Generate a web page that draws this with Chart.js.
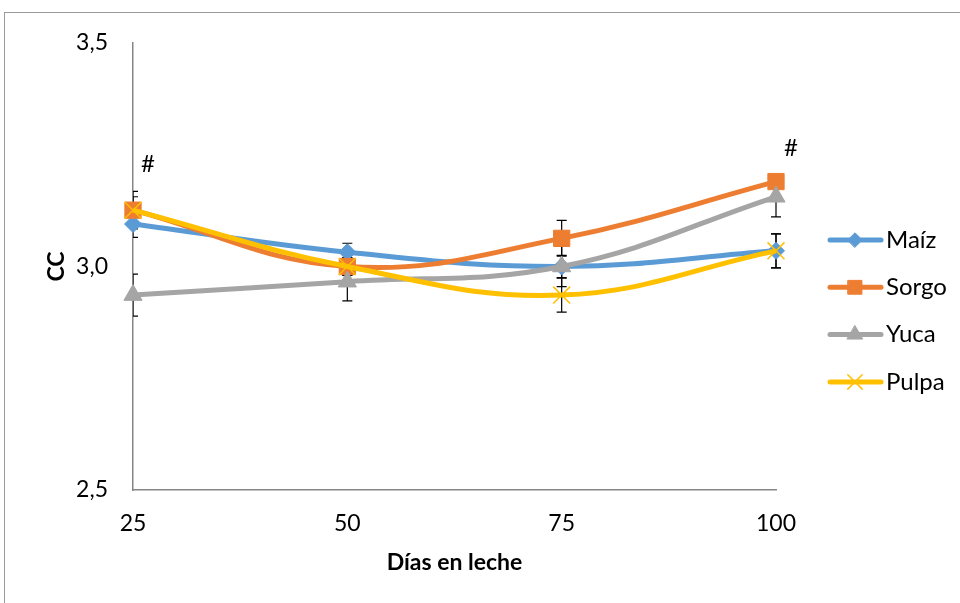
<!DOCTYPE html>
<html>
<head>
<meta charset="utf-8">
<script src="https://cdn.jsdelivr.net/npm/chart.js@4/dist/chart.umd.min.js"></script>
<style>
  html, body { margin: 0; padding: 0; background: #fff; }
  #wrap { width: 960px; height: 603px; }
</style>
</head>
<body>
<div id="wrap"><canvas id="c" width="960" height="603"></canvas></div>
<script>
// Condición corporal (CC) por días en leche, según fuente energética
const days = [25, 50, 75, 100];
const seriesNames = ['Maíz', 'Sorgo', 'Yuca', 'Pulpa'];
const maiz  = [3.095, 3.032, 3.000, 3.035];
const sorgo = [3.126, 3.000, 3.063, 3.190];
const yuca  = [2.936, 2.966, 3.000, 3.156];
const pulpa = [3.126, 3.000, 2.936, 3.035];
// error estándar de cada media
const maizErr  = [0.030, 0.020, 0.025, 0.038];
const sorgoErr = [0.042, 0.020, 0.040, 0.015];
const yucaErr  = [0.047, 0.043, 0.045, 0.045];
const pulpaErr = [0.030, 0.020, 0.038, 0.038];
const yTicks = [2.5, 3.0, 3.5];
const xTicks = [25, 50, 75, 100];
// días con diferencia significativa (#)
const signifDays = [25, 100];

const colors = ['#5B9BD5', '#ED7D31', '#A5A5A5', '#FFC000'];
const styles = ['rectRot', 'rect', 'triangle', 'crossRot'];
const radii = [8.5, 11.5, 10.5, 12];
const values = [maiz, sorgo, yuca, pulpa];
const errors = [maizErr, sorgoErr, yucaErr, pulpaErr];

const FONT = 'Lato, "Open Sans", sans-serif';

const datasets = seriesNames.map((name, i) => ({
  label: name,
  data: days.map((d, j) => ({ x: d, y: values[i][j] })),
  errors: errors[i],
  borderColor: colors[i],
  backgroundColor: colors[i],
  pointBackgroundColor: colors[i],
  pointBorderColor: colors[i],
  pointBorderWidth: styles[i] === 'crossRot' ? 1.5 : 1,
  pointStyle: styles[i],
  pointRadius: radii[i],
  pointHoverRadius: radii[i],
  borderWidth: 5,
  tension: 0.4,
  fill: false,
  clip: false,
  order: seriesNames.length - i
}));

// page frame
const framePlugin = {
  id: 'frame',
  beforeDraw(chart) {
    const ctx = chart.ctx;
    ctx.save();
    ctx.fillStyle = '#fff';
    ctx.fillRect(0, 0, chart.width, chart.height);
    ctx.strokeStyle = '#9a9a9a';
    ctx.lineWidth = 1;
    ctx.strokeRect(4.5, 12.5, chart.width + 20, chart.height + 20);
    ctx.restore();
  }
};

// error bars behind the lines
const errorBarPlugin = {
  id: 'errorBars',
  beforeDatasetsDraw(chart) {
    const ctx = chart.ctx;
    const xs = chart.scales.x, ys = chart.scales.y;
    const area = chart.chartArea;
    ctx.save();
    ctx.beginPath();
    ctx.rect(area.left, 0, chart.width - area.left, chart.height);
    ctx.clip();
    ctx.strokeStyle = '#000';
    ctx.lineWidth = 1.2;
    chart.data.datasets.forEach(ds => {
      ds.data.forEach((p, j) => {
        const e = ds.errors[j];
        const x = xs.getPixelForValue(p.x);
        const y1 = ys.getPixelForValue(p.y + e);
        const y2 = ys.getPixelForValue(p.y - e);
        ctx.beginPath();
        ctx.moveTo(x, y1); ctx.lineTo(x, y2);
        ctx.moveTo(x - 5, y1); ctx.lineTo(x + 5, y1);
        ctx.moveTo(x - 5, y2); ctx.lineTo(x + 5, y2);
        ctx.stroke();
      });
    });
    ctx.restore();
  }
};

// significance marks above the highest error bar of each flagged day
const signifPlugin = {
  id: 'signif',
  afterDatasetsDraw(chart) {
    const ctx = chart.ctx;
    const xs = chart.scales.x, ys = chart.scales.y;
    ctx.save();
    ctx.fillStyle = '#000';
    ctx.font = '24px ' + FONT;
    ctx.textAlign = 'center';
    ctx.textBaseline = 'middle';
    signifDays.forEach(d => {
      const j = days.indexOf(d);
      const top = Math.max(...values.map((v, i) => v[j] + errors[i][j]));
      const x = xs.getPixelForValue(d) + 15;
      const y = ys.getPixelForValue(top) - 27;
      ctx.fillText('#', x, y);
    });
    ctx.restore();
  }
};

// legend: line with marker and name
const legendPlugin = {
  id: 'lineLegend',
  afterDraw(chart) {
    const ctx = chart.ctx;
    ctx.save();
    chart.data.datasets.forEach((ds, i) => {
      const y = 240 + i * 47.3;
      ctx.strokeStyle = ds.borderColor;
      ctx.lineWidth = 5;
      ctx.lineCap = 'round';
      ctx.beginPath();
      ctx.moveTo(830, y); ctx.lineTo(881, y);
      ctx.stroke();
      ctx.fillStyle = ds.pointBackgroundColor;
      ctx.strokeStyle = ds.pointBorderColor;
      ctx.lineWidth = ds.pointBorderWidth;
      Chart.helpers.drawPoint(ctx, { pointStyle: ds.pointStyle, radius: ds.pointRadius * 0.85, rotation: 0, borderWidth: ds.pointBorderWidth }, 855, y);
      ctx.fillStyle = '#000';
      ctx.font = '24px ' + FONT;
      ctx.textAlign = 'left';
      ctx.textBaseline = 'middle';
      ctx.fillText(ds.label, 886, y);
    });
    ctx.restore();
  }
};

new Chart(document.getElementById('c'), {
  type: 'line',
  data: { datasets },
  options: {
    responsive: false,
    animation: false,
    events: [],
    layout: { padding: { left: 0, top: 43, right: 960 - 776, bottom: 0 } },
    plugins: { legend: { display: false }, tooltip: { enabled: false } },
    scales: {
      x: {
        type: 'linear',
        min: 25, max: 100,
        afterBuildTicks: s => { s.ticks = xTicks.map(v => ({ value: v })); },
        afterFit: s => { s.height = 113; },
        grid: { display: false },
        border: { display: true, color: '#868686', width: 1.5 },
        ticks: { color: '#000', font: { family: FONT, size: 23 }, padding: 12, maxRotation: 0 },
        title: { display: true, text: 'Días en leche', color: '#000', font: { family: FONT, size: 23, weight: 'bold' }, padding: { top: 0, bottom: 27 } }
      },
      y: {
        min: 2.5, max: 3.5,
        afterBuildTicks: s => { s.ticks = yTicks.map(v => ({ value: v })); },
        afterFit: s => { s.width = 133; },
        grid: { display: false },
        border: { display: true, color: '#868686', width: 1.5 },
        ticks: { color: '#000', font: { family: FONT, size: 23 }, padding: 17,
          callback: v => v.toFixed(1).replace('.', ',') },
        title: { display: true, text: 'CC', color: '#000', font: { family: FONT, size: 23, weight: 'bold' }, padding: { top: 43, bottom: 0 } }
      }
    }
  },
  plugins: [framePlugin, errorBarPlugin, signifPlugin, legendPlugin]
});
</script>
</body>
</html>
